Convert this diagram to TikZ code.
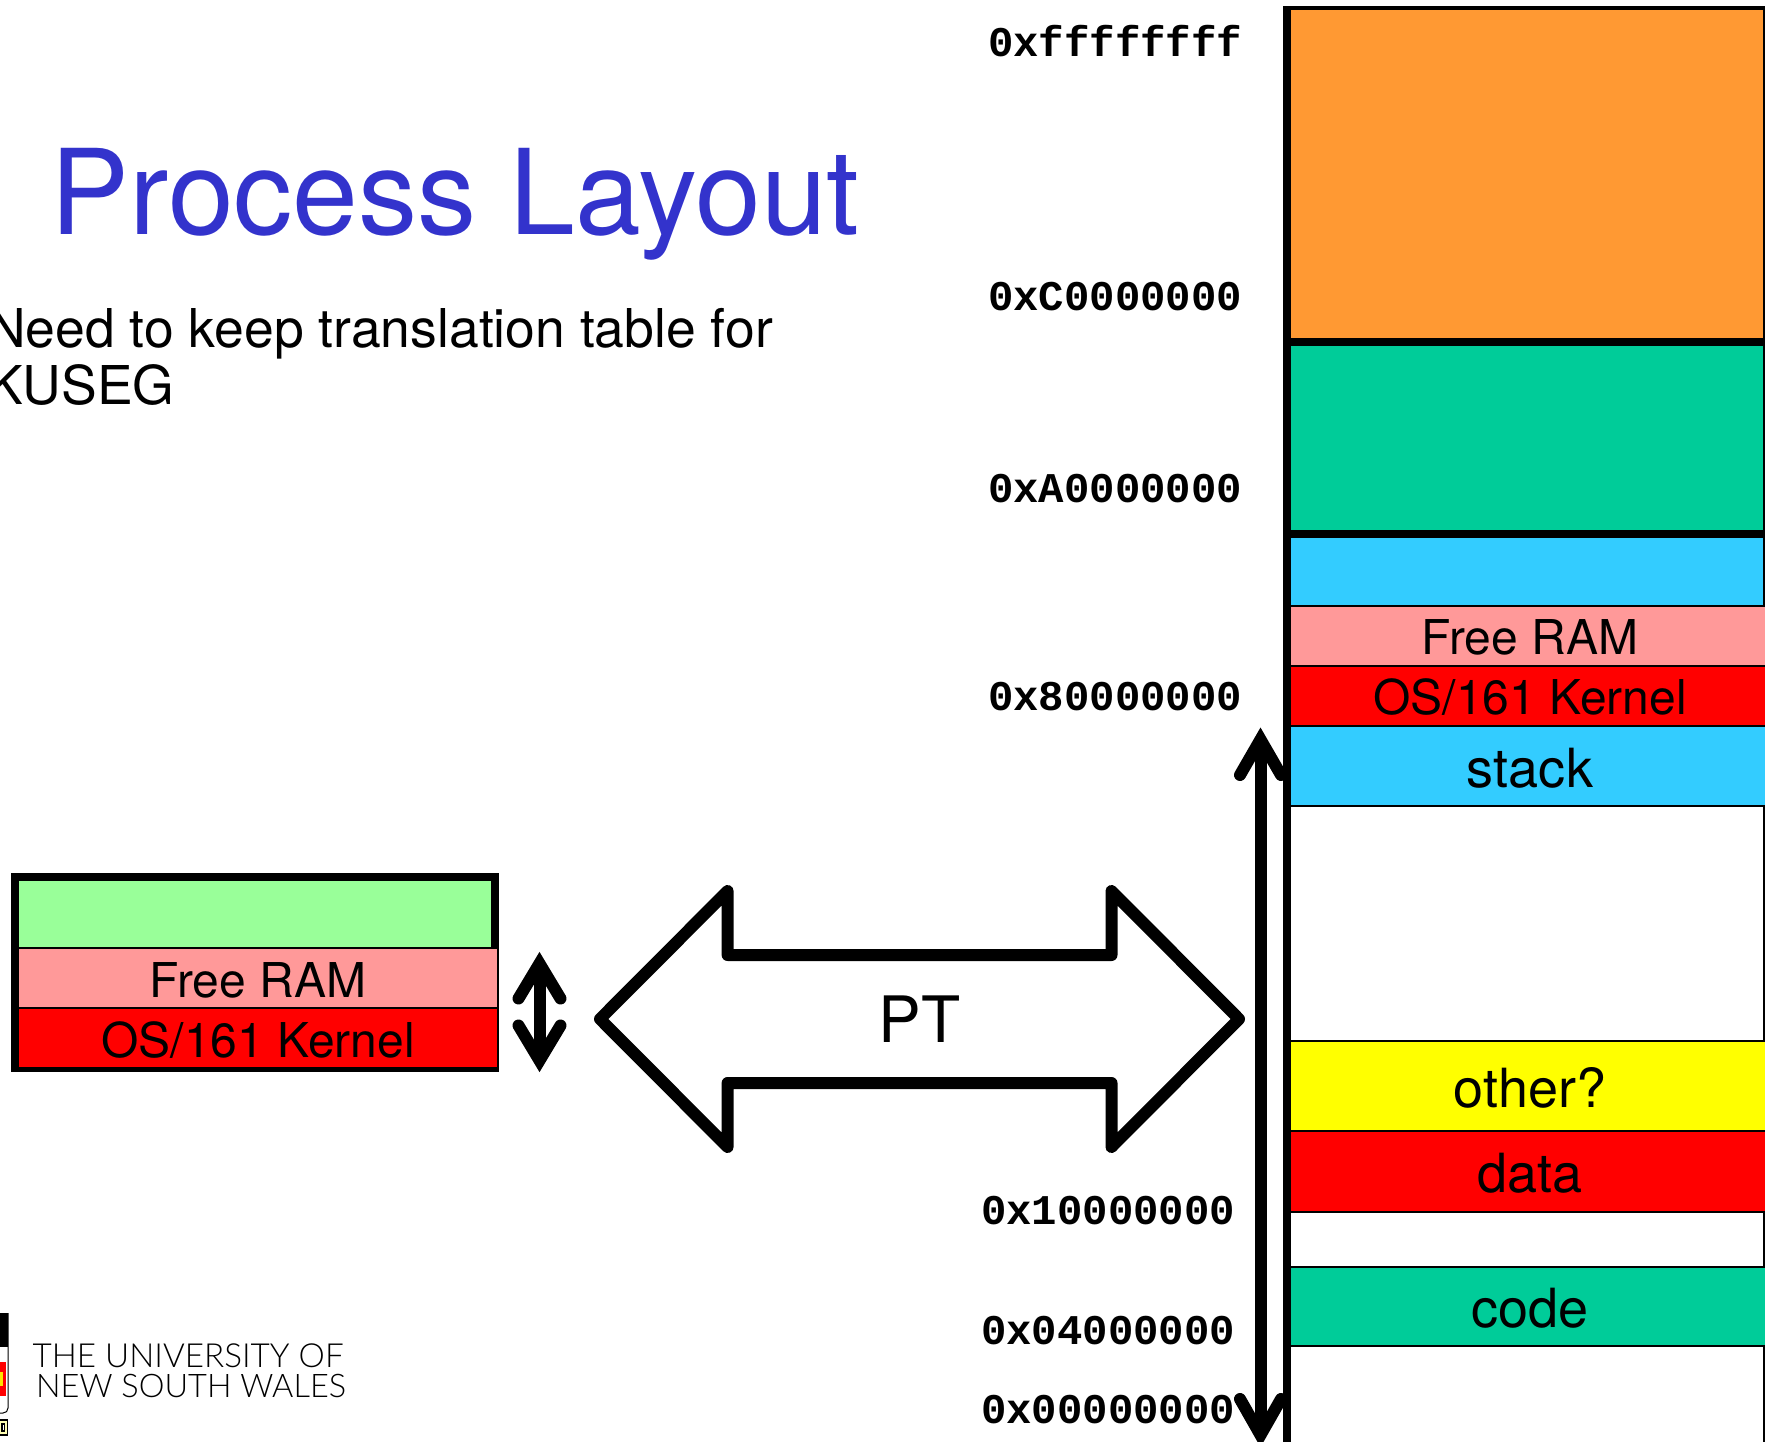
\documentclass[tikz,border=0pt]{standalone}
\usepackage{fontspec}
\setmainfont{TeX Gyre Heros}
\newfontfamily\addrfont{Liberation Mono}[BoldFont={Liberation Mono Bold}]
\newfontfamily\unswfont{Lato Light}
\definecolor{orangeseg}{HTML}{FF9933}
\definecolor{greenseg}{HTML}{00CC99}
\definecolor{blueseg}{HTML}{33CCFF}
\definecolor{pinkseg}{HTML}{FF9999}
\definecolor{limeseg}{HTML}{99FF99}
\definecolor{redseg}{HTML}{FF0000}
\definecolor{yellowseg}{HTML}{FFFF00}
\definecolor{titleblue}{HTML}{3333CC}
\tikzset{
  seg/.style={draw=black,line width=1.3pt,rectangle,inner sep=0pt,outer sep=0pt,anchor=north west},
  seglabel/.style={inner sep=0pt,anchor=base,font=\fontsize{48}{48}\selectfont},
  biglabel/.style={inner sep=0pt,anchor=base,font=\fontsize{54}{54}\selectfont},
  addr/.style={inner sep=0pt,anchor=west,font=\addrfont\bfseries\fontsize{42.3}{42.3}\selectfont},
  heavy/.style={draw=black,line width=8pt},
  thickline/.style={draw=black,line width=12pt},
  vhead/.style={draw=black,line width=12pt,line cap=round,miter limit=10},
  bodytext/.style={inner sep=0pt,anchor=base west,font=\fontsize{53.5}{53.5}\selectfont},
}
\begin{document}
\begin{tikzpicture}[x=1pt,y=-1pt]
\useasboundingbox (0,0) rectangle (1765,1442);
\clip (0,0) rectangle (1765,1442);
% memory map arrow
\coordinate (mt) at (1260.5,739.5);
\coordinate (mb) at (1260.5,1435);
\draw[thickline] (mt) -- (mb);
\draw[vhead] (1240,775) -- (mt) -- (1281,775);
\draw[vhead] (1240,1399) -- (mb) -- (1281,1399);
% memory column
\node[seg,fill=orangeseg,minimum width=477,minimum height=333] (orange) at (1287,8) {};
\node[seg,fill=greenseg,minimum width=477,minimum height=193] (green) at (1287,341) {};
\node[seg,fill=blueseg,minimum width=477,minimum height=72] (kseg) at (1287,534) {};
\node[seg,fill=pinkseg,minimum width=490,minimum height=60] (freeb) at (1287,606) {};
\node[seg,fill=redseg,minimum width=490,minimum height=60] (kernb) at (1287,666) {};
\node[seg,fill=blueseg,minimum width=490,minimum height=80] (stack) at (1287,726) {};
\node[seg,fill=white,minimum width=477,minimum height=235] (hole) at (1287,806) {};
\node[seg,fill=yellowseg,minimum width=490,minimum height=90] (other) at (1287,1041) {};
\node[seg,fill=redseg,minimum width=490,minimum height=81] (data) at (1287,1131) {};
\node[seg,fill=white,minimum width=477,minimum height=55] (gap) at (1287,1212) {};
\node[seg,fill=greenseg,minimum width=490,minimum height=79] (code) at (1287,1267) {};
\node[seg,fill=white,minimum width=477,minimum height=110] (low) at (1287,1346) {};
\draw[heavy] (1287,1450) -- (1287,6);
\draw[draw=black,line width=4.5pt] (1283,8) -- (1770,8);
\draw[heavy] (1287,341.5) -- (1770,341.5);
\draw[heavy] (1287,534) -- (1770,534);
\node[seglabel] (tfree) at (1530,654) {Free RAM};
\node[seglabel] (tkern) at (1530,714) {OS/161 Kernel};
\node[biglabel] (tstack) at (1530,787) {stack};
\node[biglabel] (tother) at (1530,1107) {other?};
\node[biglabel] (tdata) at (1530,1192) {data};
\node[biglabel] (tcode) at (1530,1327) {code};
% addresses
\node[addr] (a1) at (988,41) {0xffffffff};
\node[addr] (a2) at (988,297) {0xC0000000};
\node[addr] (a3) at (988,489) {0xA0000000};
\node[addr] (a4) at (988,697) {0x80000000};
\node[addr] (a5) at (981,1211) {0x10000000};
\node[addr] (a6) at (981,1331) {0x04000000};
\node[addr] (a7) at (981,1410) {0x00000000};
% title and text
\node[inner sep=0pt,anchor=base west,text=titleblue,font=\fontsize{118.3}{118.3}\selectfont] (title) at (50,234.5) {Process Layout};
\node[bodytext] (l1) at (-13,347) {Need to keep translation table for};
\node[bodytext] (l2) at (-13,404) {KUSEG};
% physical memory box
\node[draw=black,line width=8pt,fill=limeseg,rectangle,inner sep=0pt,outer sep=0pt,anchor=north west,minimum width=480,minimum height=191] (phys) at (15,877) {};
\node[seg,fill=pinkseg,minimum width=479.5,minimum height=60] (pfree) at (18.5,948) {};
\node[seg,fill=redseg,minimum width=479.5,minimum height=60,line width=1.5pt] (pkern) at (18.5,1008) {};
\draw[draw=black,line width=5pt] (11,1069.5) -- (499,1069.5);
\draw[heavy] (15,873) -- (15,1072);
\node[seglabel] (pt1) at (258,997) {Free RAM};
\node[seglabel] (pt2) at (258,1057) {OS/161 Kernel};
% small double arrow
\coordinate (sa) at (539.5,963.5);
\coordinate (sb) at (539.5,1060.5);
\draw[thickline] (sa) -- (sb);
\draw[vhead] (518.5,998.5) -- (sa) -- (560.5,998.5);
\draw[vhead] (518.5,1025.5) -- (sb) -- (560.5,1025.5);
% big double arrow
\draw[thickline,line join=round,fill=white] (600,1019) -- (727.6,891) -- (727.6,955) -- (1111.5,955) -- (1111.5,891) -- (1239,1019) -- (1111.5,1147) -- (1111.5,1083) -- (727.6,1083) -- (727.6,1147) -- cycle;
\node[inner sep=0pt,anchor=base,font=\fontsize{64}{64}\selectfont] (pt) at (919.5,1042.7) {PT};
% crest
\fill[black] (0,1313) rectangle (8,1347);
\fill[white] (0,1347) rectangle (7,1362);
\fill[redseg] (0,1362) rectangle (6,1396);
\fill[yellowseg!90!red] (0,1372) rectangle (3,1386);
\draw[black,line width=1pt] (8,1313) -- (8,1408) .. controls (8,1411) and (6,1413) .. (3,1413) -- (0,1413);
\draw[black,line width=1.5pt,fill=yellowseg!30!white] (-2,1420) rectangle (7.5,1435);
\fill[black] (1,1423) rectangle (5,1432);
\fill[white] (2.5,1425) rectangle (3.5,1430);
% university name
\node[inner sep=0pt,anchor=base west,font=\unswfont\fontsize{33.2}{33.2}\selectfont] (u1) at (32.5,1367) {THE UNIVERSITY OF};
\node[inner sep=0pt,anchor=base west,font=\unswfont\fontsize{32.5}{32.5}\selectfont] (u2) at (36,1397) {NEW SOUTH WALES};
\end{tikzpicture}
\end{document}
